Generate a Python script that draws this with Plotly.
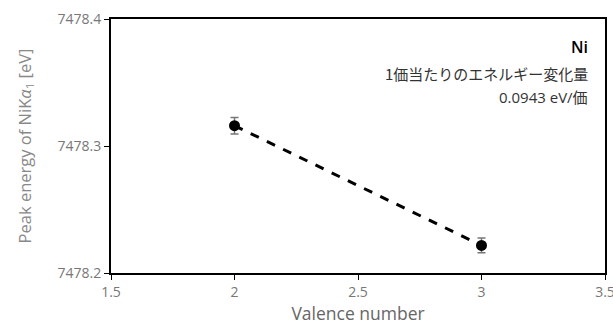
import plotly.graph_objects as go

valence = [2, 3]
peak_energy = [7478.316, 7478.2217]
errors = [0.0065, 0.0058]
x_ticks = [1.5, 2, 2.5, 3, 3.5]
x_tick_labels = ["1.5", "2", "2.5", "3", "3.5"]
y_ticks = [7478.2, 7478.3, 7478.4]
y_tick_labels = ["7478.2", "7478.3", "7478.4"]

font_fam = "Open Sans, Noto Sans CJK JP, sans-serif"
fig = go.Figure()
fig.add_trace(go.Scatter(
    x=valence, y=peak_energy, mode="lines",
    line=dict(color="black", width=3, dash="dash"), showlegend=False))
fig.add_trace(go.Scatter(
    x=valence, y=peak_energy, mode="markers",
    marker=dict(color="black", size=11),
    error_y=dict(type="data", array=errors, color="#777777", thickness=1.5, width=4),
    showlegend=False))

fig.update_layout(
    width=613, height=326,
    margin=dict(l=111, r=8, t=19, b=53),
    plot_bgcolor="white", paper_bgcolor="white",
    font=dict(family=font_fam, color="#777777", size=14),
    xaxis=dict(range=[1.5, 3.5], tickvals=x_ticks, ticktext=x_tick_labels,
               showgrid=False, zeroline=False, showline=True, linecolor="black",
               linewidth=2, mirror=True, ticks="outside", ticklen=5, tickcolor="black",
               automargin=False, ticklabeloverflow="allow",
               title=dict(text="Valence number", font=dict(size=17.5, color="#666666"), standoff=2)),
    yaxis=dict(range=[7478.2, 7478.4], tickvals=y_ticks, ticktext=y_tick_labels,
               showgrid=False, zeroline=False, showline=True, linecolor="black",
               linewidth=2, mirror=True, ticks="outside", ticklen=5, tickcolor="black",
               automargin=False, ticklabeloverflow="allow",
               title=dict(text="Peak energy of NiK<i>α</i><sub>1</sub> [eV]",
                          font=dict(size=16.5, color="#888888"), standoff=22)),
)
fig.add_annotation(xref="paper", yref="paper", x=0.97, y=0.89, xanchor="right", yanchor="middle",
                   text="Ni", showarrow=False,
                   font=dict(size=16, color="black", family=font_fam, weight=600))
fig.add_annotation(xref="paper", yref="paper", x=0.97, y=0.787, xanchor="right", yanchor="middle",
                   text="1価当たりのエネルギー変化量", showarrow=False,
                   font=dict(size=15, color="#333333", family="Noto Sans CJK JP, sans-serif"))
fig.add_annotation(xref="paper", yref="paper", x=0.97, y=0.693, xanchor="right", yanchor="middle",
                   text="0.0943 eV/価", showarrow=False,
                   font=dict(size=15, color="#333333", family="Open Sans, Noto Sans CJK JP, sans-serif"))
fig.write_html("out.html", config={"displayModeBar": False},
               post_script="document.body.style.margin='0';document.body.style.overflow='hidden';")
